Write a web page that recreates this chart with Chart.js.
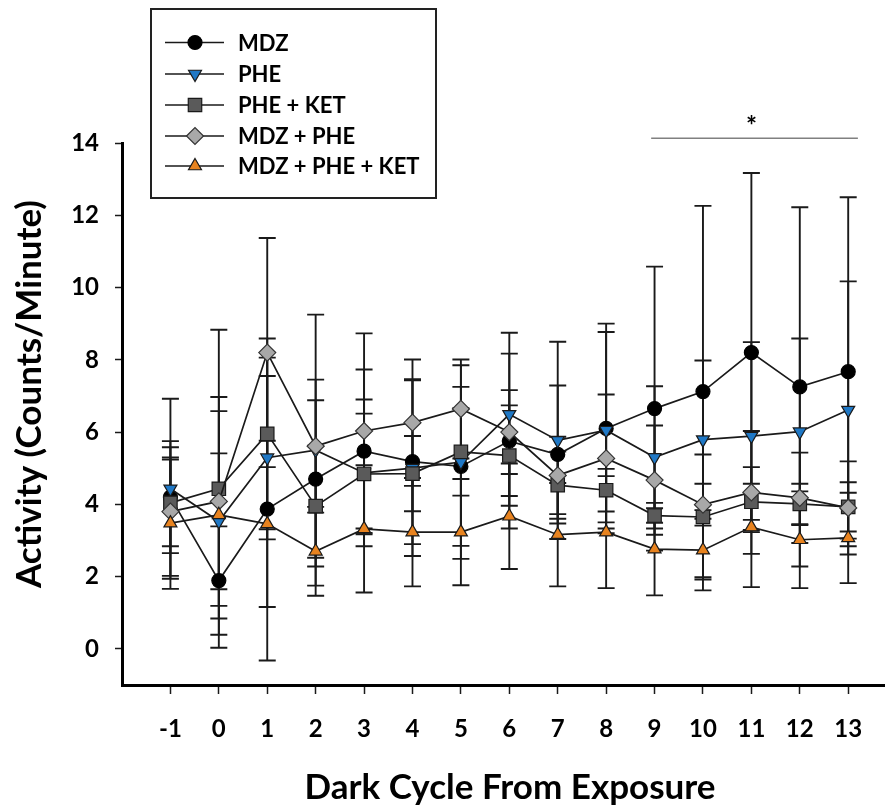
<!DOCTYPE html>
<html><head><meta charset="utf-8">
<script src="https://cdn.jsdelivr.net/npm/chart.js@4.4.1/dist/chart.umd.min.js"></script>
<style>html,body{margin:0;padding:0;background:#fff;}canvas{display:block;}</style>
</head><body>
<canvas id="c" width="885" height="807"></canvas>
<script>
// ---- data ----
const cycles = [-1, 0, 1, 2, 3, 4, 5, 6, 7, 8, 9, 10, 11, 12, 13];
const yTickValues = [0, 2, 4, 6, 8, 10, 12, 14];
const seriesNames = ['MDZ', 'PHE', 'PHE + KET', 'MDZ + PHE', 'MDZ + PHE + KET'];

const mdzMean = [4.2, 1.89, 3.87, 4.7, 5.47, 5.18, 5.05, 5.75, 5.38, 6.1, 6.65, 7.12, 8.2, 7.25, 7.67];
const mdzErr  = [1.55, 1.5, 4.19, 2.18, 2.26, 2.28, 2.2, 2.42, 1.91, 2.9, 3.93, 5.14, 4.97, 4.97, 4.83];

const pheMean = [4.43, 3.53, 5.29, 5.5, 4.87, 5.0, 5.17, 6.49, 5.77, 6.05, 5.3, 5.79, 5.89, 6.01, 6.61];
const pheErr  = [2.49, 1.88, 2.26, 3.75, 2.03, 2.43, 2.68, 2.26, 2.73, 2.72, 1.97, 2.19, 2.6, 2.58, 3.56];

const pheKetMean = [4.04, 4.43, 5.95, 3.95, 4.84, 4.85, 5.45, 5.35, 4.53, 4.39, 3.69, 3.65, 4.07, 4.01, 3.93];
const pheKetErr  = [1.2, 4.4, 2.64, 1.67, 1.67, 1.04, 1.21, 1.39, 0.93, 0.59, 0.2, 1.73, 0.5, 0.56, 0.68];

const mdzPheMean = [3.8, 4.08, 8.2, 5.61, 6.03, 6.26, 6.64, 6.0, 4.8, 5.27, 4.67, 3.99, 4.33, 4.18, 3.9];
const mdzPheErr  = [1.78, 2.89, 3.17, 1.84, 2.7, 1.75, 1.37, 1.16, 1.07, 1.77, 1.51, 0.58, 1.7, 1.25, 1.29];

const mdzPheKetMean = [3.48, 3.71, 3.46, 2.7, 3.32, 3.23, 3.23, 3.67, 3.16, 3.23, 2.76, 2.73, 3.37, 3.02, 3.07];
const mdzPheKetErr  = [1.82, 2.87, 2.3, 1.23, 1.76, 1.5, 1.47, 1.46, 1.43, 1.55, 1.28, 1.11, 1.66, 1.34, 1.25];

const sigRange = [8.93, 13.2];
const sigLevel = 14.13;
const sigLabel = '*';
const xTitle = 'Dark Cycle From Exposure';
const yTitle = 'Activity (Counts/Minute)';

// ---- styles ----
const FONT = 'Lato, "Open Sans", sans-serif';
const styles = [
  {pointStyle: 'circle',   rotation: 0,   radius: 7,   fill: '#000000', border: '#000000'},
  {pointStyle: 'triangle', rotation: 180, radius: 7.5, fill: '#1f78c6', border: '#1a1a1a'},
  {pointStyle: 'rect',     rotation: 0,   radius: 9.5, fill: '#5a5a5a', border: '#1a1a1a'},
  {pointStyle: 'rectRot',  rotation: 0,   radius: 8.5, fill: '#a8a8a8', border: '#333333'},
  {pointStyle: 'triangle', rotation: 0,   radius: 7.5, fill: '#e8831f', border: '#1a1a1a'}
];
const means = [mdzMean, pheMean, pheKetMean, mdzPheMean, mdzPheKetMean];
const errs = [mdzErr, pheErr, pheKetErr, mdzPheErr, mdzPheKetErr];

const datasets = seriesNames.map((name, k) => ({
  label: name,
  data: cycles.map((c, i) => ({x: c, y: means[k][i]})),
  errors: errs[k],
  borderColor: '#1a1a1a',
  borderWidth: 1.7,
  pointStyle: styles[k].pointStyle,
  rotation: styles[k].rotation,
  pointRadius: styles[k].radius,
  pointHoverRadius: styles[k].radius,
  pointBackgroundColor: styles[k].fill,
  pointBorderColor: styles[k].border,
  pointBorderWidth: 1.2,
  fill: false,
  tension: 0,
  clip: false,
  order: 5 - k
}));

const errorBars = {
  id: 'errorBars',
  beforeDatasetsDraw(chart) {
    const ctx = chart.ctx, ys = chart.scales.y;
    ctx.save();
    ctx.strokeStyle = '#1a1a1a';
    ctx.lineWidth = 1.9;
    chart.data.datasets.forEach((ds, di) => {
      const meta = chart.getDatasetMeta(di);
      ds.errors.forEach((e, i) => {
        const x = meta.data[i].x;
        const v = ds.data[i].y;
        const yT = ys.getPixelForValue(v + e), yB = ys.getPixelForValue(v - e);
        ctx.beginPath();
        ctx.moveTo(x, yT); ctx.lineTo(x, yB);
        ctx.moveTo(x - 8.5, yT); ctx.lineTo(x + 8.5, yT);
        ctx.moveTo(x - 8.5, yB); ctx.lineTo(x + 8.5, yB);
        ctx.stroke();
      });
    });
    ctx.restore();
  }
};

const extras = {
  id: 'extras',
  afterDraw(chart) {
    const ctx = chart.ctx, xs = chart.scales.x, ys = chart.scales.y;
    ctx.save();
    // significance bracket
    const sy = ys.getPixelForValue(sigLevel);
    ctx.strokeStyle = '#808080';
    ctx.lineWidth = 1.5;
    ctx.beginPath();
    ctx.moveTo(xs.getPixelForValue(sigRange[0]), sy);
    ctx.lineTo(xs.getPixelForValue(sigRange[1]), sy);
    ctx.stroke();
    ctx.fillStyle = '#000';
    ctx.font = 'bold 26px ' + FONT;
    ctx.textAlign = 'center';
    ctx.textBaseline = 'alphabetic';
    ctx.fillText(sigLabel, xs.getPixelForValue((sigRange[0] + sigRange[1]) / 2) - 3, sy - 3);

    // axis titles
    ctx.font = 'bold 35px ' + FONT;
    ctx.textAlign = 'center';
    ctx.textBaseline = 'middle';
    ctx.fillText(xTitle, 510, 788);
    ctx.save();
    ctx.translate(30, 394);
    ctx.rotate(-Math.PI / 2);
    ctx.fillText(yTitle, 0, 0);
    ctx.restore();

    // legend
    const bx = 151, by = 9, bw = 285, bh = 189;
    ctx.fillStyle = '#fff';
    ctx.fillRect(bx, by, bw, bh);
    ctx.strokeStyle = '#222';
    ctx.lineWidth = 2;
    ctx.strokeRect(bx, by, bw, bh);
    const rows = [42.5, 74, 105, 136, 166];
    seriesNames.forEach((name, k) => {
      const y = rows[k];
      ctx.strokeStyle = '#1a1a1a';
      ctx.lineWidth = 1.7;
      ctx.beginPath(); ctx.moveTo(165, y); ctx.lineTo(224, y); ctx.stroke();
      ctx.fillStyle = styles[k].fill;
      ctx.strokeStyle = styles[k].border;
      ctx.lineWidth = 1.2;
      Chart.helpers.drawPoint(ctx, {pointStyle: styles[k].pointStyle, rotation: styles[k].rotation,
        radius: styles[k].radius, borderWidth: 1.2}, 195, y);
      ctx.fillStyle = '#000';
      ctx.font = 'bold 22px ' + FONT;
      ctx.textAlign = 'left';
      ctx.textBaseline = 'middle';
      ctx.fillText(name, 238, y + 1);
    });
    ctx.restore();
  }
};

new Chart(document.getElementById('c'), {
  type: 'line',
  data: {datasets},
  plugins: [errorBars, extras],
  options: {
    responsive: false,
    animation: false,
    events: [],
    layout: {autoPadding: false, padding: {top: 143, right: 0, bottom: 0, left: 0}},
    plugins: {legend: {display: false}, tooltip: {enabled: false}},
    scales: {
      x: {
        type: 'linear', min: -2, max: 13.76,
        afterBuildTicks: s => { s.ticks = cycles.map(v => ({value: v})); },
        afterFit: s => { s.height = 122; s.paddingLeft = 0; s.paddingRight = 0; },
        grid: {drawOnChartArea: false, drawTicks: true, tickLength: 9, tickWidth: 1.5, tickColor: '#1a1a1a'},
        border: {display: true, color: '#000', width: 3},
        ticks: {color: '#000', padding: 21, maxRotation: 0, autoSkip: false,
          font: {family: FONT, size: 24, weight: 'bold'}}
      },
      y: {
        type: 'linear', min: -1, max: 14,
        afterBuildTicks: s => { s.ticks = yTickValues.map(v => ({value: v})); },
        afterFit: s => { s.width = 122; s.paddingTop = 0; s.paddingBottom = 0; },
        grid: {drawOnChartArea: false, drawTicks: true, tickLength: 7, tickWidth: 1.5, tickColor: '#1a1a1a'},
        border: {display: true, color: '#000', width: 3},
        ticks: {color: '#000', padding: 16,
          font: {family: FONT, size: 24, weight: 'bold'}}
      }
    }
  }
});
</script>
</body></html>
